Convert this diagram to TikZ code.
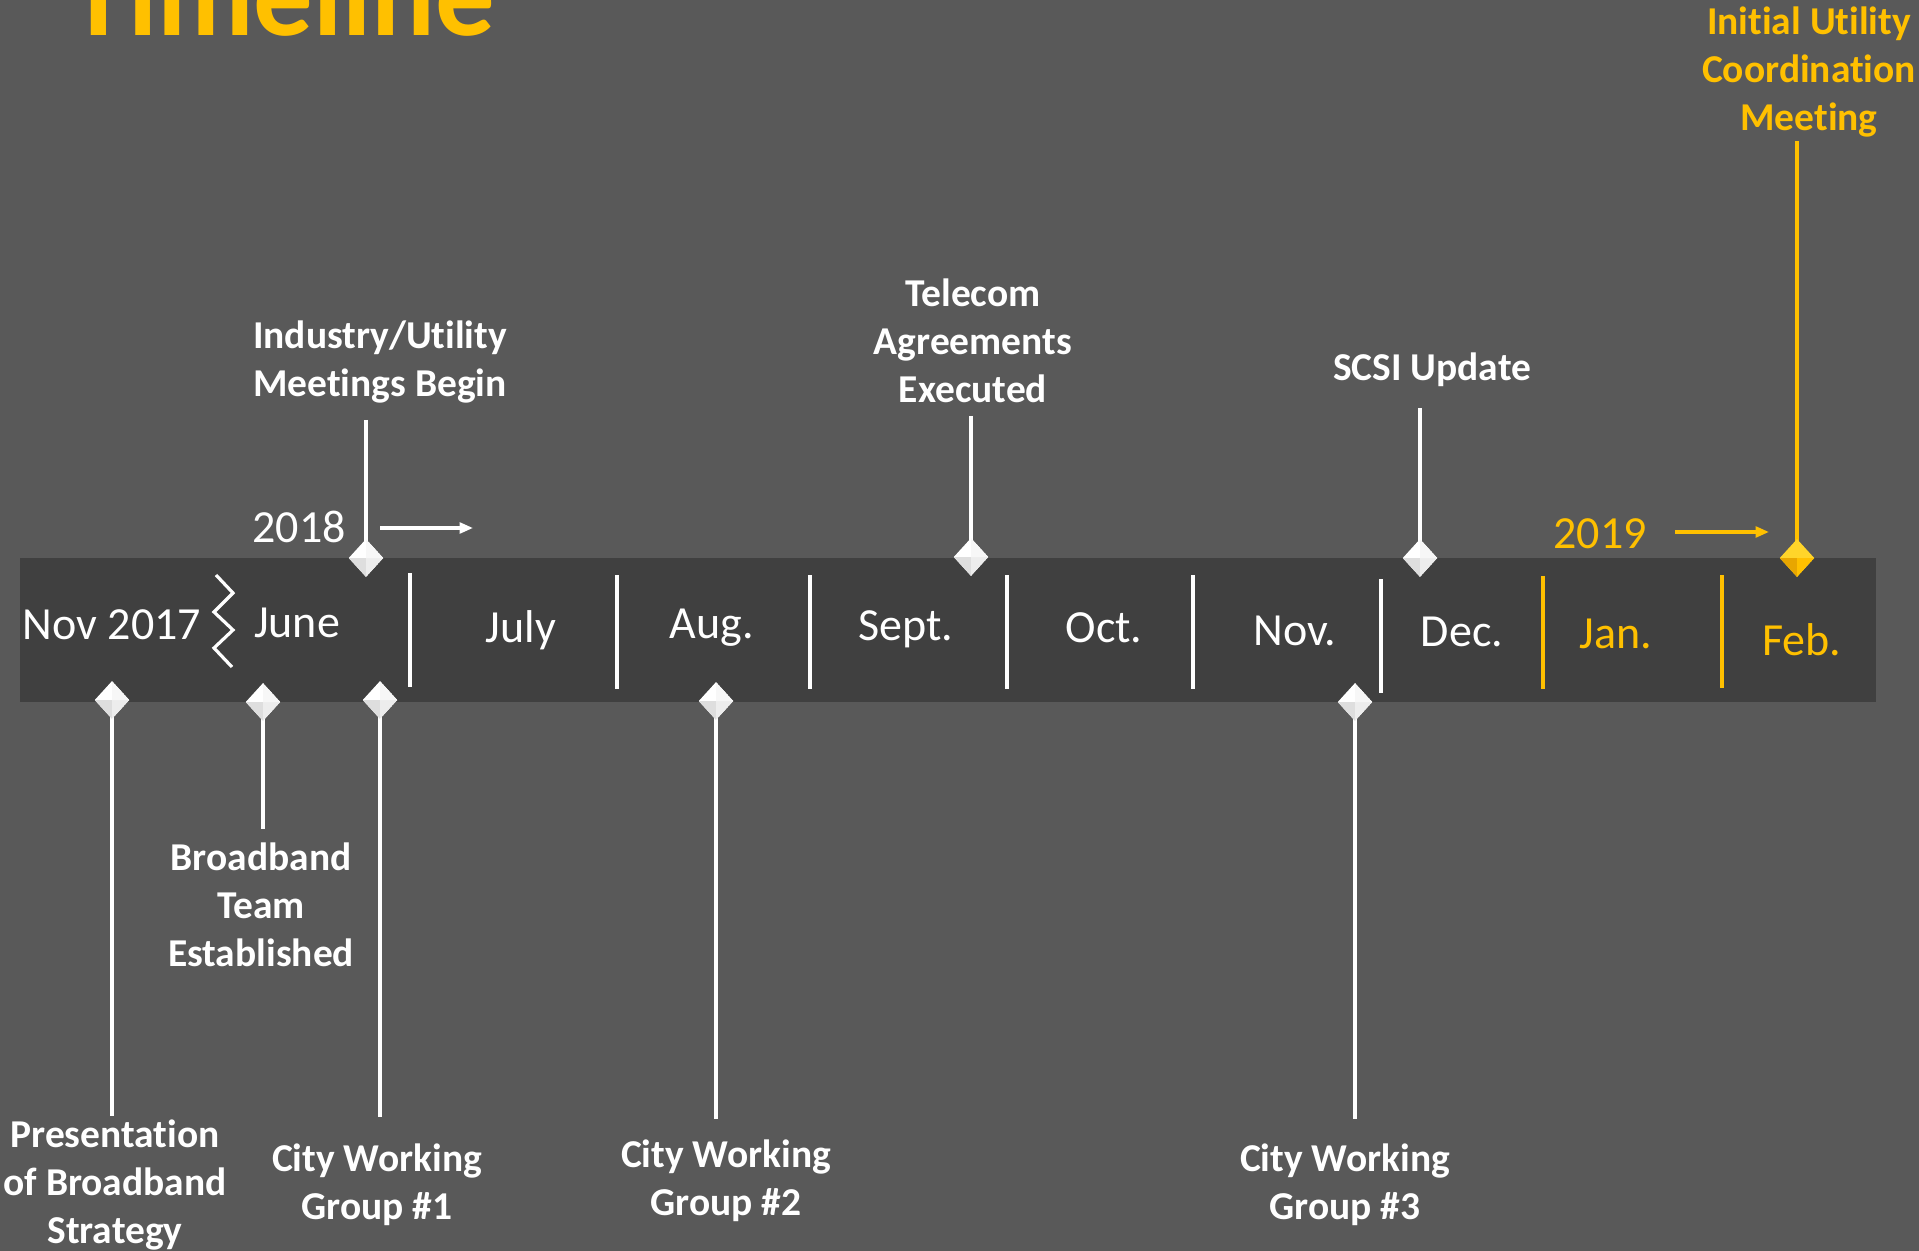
\documentclass[tikz,border=0pt]{standalone}
\usepackage{fontspec}
\setmainfont{Carlito}[Ligatures={NoCommon},Contextuals={NoAlternate}]
\usetikzlibrary{arrows.meta,shapes.geometric}
\definecolor{bgc}{HTML}{595959}
\definecolor{bandc}{HTML}{404040}
\definecolor{gold}{HTML}{FFC000}
\definecolor{goldlite}{HTML}{FFD52A}
\definecolor{golddark}{HTML}{E8A600}
\begin{document}
\begin{tikzpicture}[x=0.75pt,y=-0.75pt,
  month/.style={anchor=base,text=white,font=\fontsize{34.5}{41}\selectfont,inner sep=0pt},
  lbl/.style={align=center,text=white,font=\fontsize{29.6}{36}\selectfont\bfseries,inner sep=0pt},
  sepline/.style={white,line width=2.6pt},
  conn/.style={white,line width=2.4pt},
  gem/.style={shape=diamond,draw=none,fill=white,minimum width=26pt,minimum height=28.5pt,inner sep=0pt,
    path picture={
      \fill[black!13] (path picture bounding box.west) -- (path picture bounding box.south) -- (path picture bounding box.center) -- cycle;
      \fill[black!7] (path picture bounding box.east) -- (path picture bounding box.south) -- (path picture bounding box.center) -- cycle;
      \fill[black!3] (path picture bounding box.east) -- (path picture bounding box.north) -- (path picture bounding box.center) -- cycle;}},
  goldgem/.style={shape=diamond,draw=none,fill=goldlite,minimum width=26pt,minimum height=28.5pt,inner sep=0pt,
    path picture={
      \fill[golddark] (path picture bounding box.west) -- (path picture bounding box.south) -- (path picture bounding box.center) -- cycle;
      \fill[gold] (path picture bounding box.east) -- (path picture bounding box.south) -- (path picture bounding box.center) -- cycle;}},
  yeararrow/.style={line width=2.4pt,-{Triangle[length=10pt,width=8pt]}},
]
\useasboundingbox (0,0) rectangle (1919,1251);
\fill[bgc] (0,0) rectangle (1919,1251);
\begin{scope}
\clip (0,0) rectangle (1919,1251);

% title
\node[anchor=base west,inner sep=0pt,text=gold,font=\fontsize{89}{100}\selectfont\bfseries] (title) at (69,36) {Timeline};

% band
\fill[bandc] (20,558) rectangle (1876,702);

% zigzag break
\draw[white,line width=2.4pt] (216,575) -- (233,593) -- (214,612) -- (233,630) -- (214,648) -- (232,667);

% separators
\draw[sepline] (410,573) -- (410,687);
\draw[sepline] (617,575) -- (617,689);
\draw[sepline] (810,575) -- (810,689);
\draw[sepline] (1007,575) -- (1007,689);
\draw[sepline] (1193,575) -- (1193,689);
\draw[sepline] (1381,579) -- (1381,693);
\draw[sepline,gold] (1543,576) -- (1543,689);
\draw[sepline,gold] (1722,575) -- (1722,688);

% months
\node[month] (mnov17) at (112,639) {Nov 2017};
\node[month] (mjun) at (297,637) {June};
\node[month] (mjul) at (521,642) {July};
\node[month] (maug) at (712,638) {Aug.};
\node[month] (msep) at (906,640) {Sept.};
\node[month] (moct) at (1104,642) {Oct.};
\node[month] (mnov) at (1295,645) {Nov.};
\node[month] (mdec) at (1462,646) {Dec.};
\node[month,text=gold] (mjan) at (1616,648) {Jan.};
\node[month,text=gold] (mfeb) at (1802,655) {Feb.};

% years
\node[month] (y18) at (299,542) {2018};
\coordinate (a18s) at (380,528);
\coordinate (a18e) at (473,528);
\draw[yeararrow,white] (a18s) -- (a18e);
\node[month,text=gold] (y19) at (1600,548) {2019};
\coordinate (a19s) at (1675,532);
\coordinate (a19e) at (1769,532);
\draw[yeararrow,gold] (a19s) -- (a19e);

% top events
\coordinate (cind) at (366,420);
\coordinate (ctel) at (971,416);
\coordinate (cscsi) at (1420,408);
\coordinate (cinit) at (1797,141);
\draw[conn] (cind) -- (366,558);
\draw[conn] (ctel) -- (971,557);
\draw[conn] (cscsi) -- (1420,558);
\draw[conn,gold] (cinit) -- (1797,558);
\node[gem] (dind) at (366,558) {};
\node[gem] (dtel) at (971,557) {};
\node[gem] (dscsi) at (1420,558) {};
\node[goldgem] (dinit) at (1797,558) {};

\node[lbl] (lind) at (380,362) {Industry/Utility\\Meetings Begin};
\node[lbl] (ltel) at (973,341) {Telecom\\Agreements\\Executed};
\node[lbl] (lscsi) at (1432,370) {SCSI Update};
\node[lbl,text=gold] (linit) at (1809,72) {Initial Utility\\Coordination\\Meeting};

% bottom events
\coordinate (cpres) at (112,1116);
\coordinate (cbb) at (263,829);
\coordinate (ccw1) at (380,1117);
\coordinate (ccw2) at (716,1119);
\coordinate (ccw3) at (1355,1119);
\draw[conn] (112,700) -- (cpres);
\draw[conn] (263,702) -- (cbb);
\draw[conn] (380,700) -- (ccw1);
\draw[conn] (716,701) -- (ccw2);
\draw[conn] (1355,702) -- (ccw3);
\node[gem] (dpres) at (112,700) {};
\node[gem] (dbb) at (263,702) {};
\node[gem] (dcw1) at (380,700) {};
\node[gem] (dcw2) at (716,701) {};
\node[gem] (dcw3) at (1355,702) {};

\node[lbl] (lbb) at (261,905) {Broadband\\Team\\Established};
\node[lbl] (lpres) at (115,1185) {Presentation\\of Broadband\\Strategy};
\node[lbl] (lcw1) at (377,1185) {City Working\\Group \#1};
\node[lbl] (lcw2) at (726,1181) {City Working\\Group \#2};
\node[lbl] (lcw3) at (1345,1185) {City Working\\Group \#3};
\end{scope}
\end{tikzpicture}
\end{document}
